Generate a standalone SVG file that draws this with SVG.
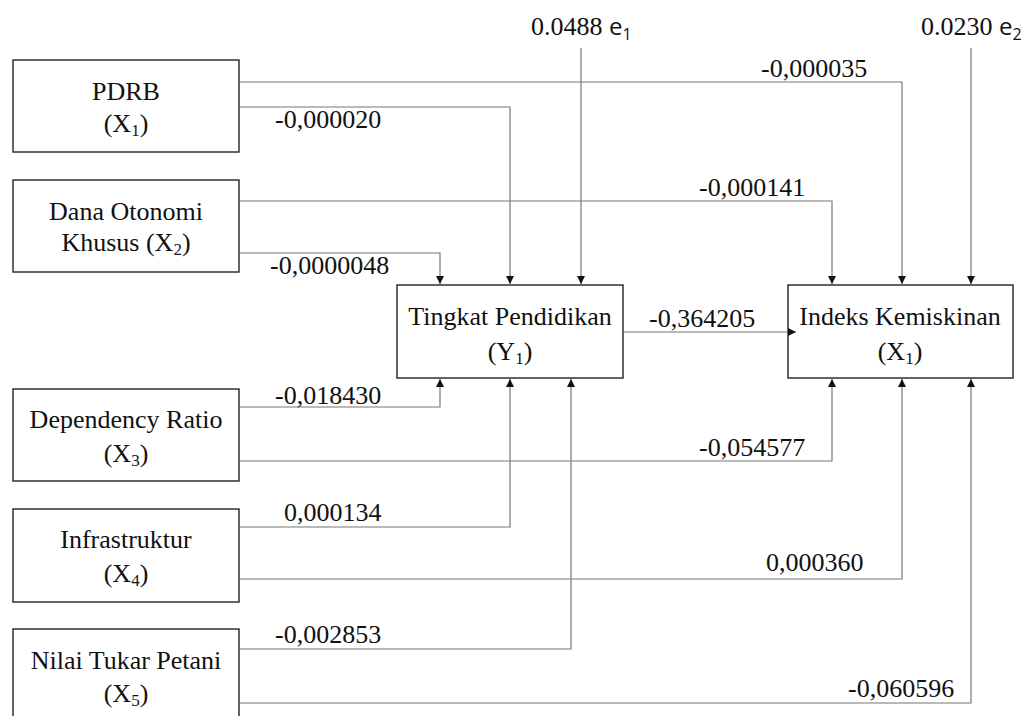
<svg xmlns="http://www.w3.org/2000/svg" width="1024" height="716" viewBox="0 0 1024 716">
<style>
.box{fill:#fff;stroke:#222;stroke-width:1.4}
text.t{font-family:'Liberation Serif','Times New Roman',Times,'DejaVu Serif',serif;font-size:26px;fill:#111}
.c{text-anchor:middle}
.s{font-size:17px}
.e{font-family:'Open Sans','DejaVu Sans',sans-serif;font-size:24px}
.es{font-family:'Open Sans','DejaVu Sans',sans-serif;font-size:16px}
.ln{fill:none;stroke:#777;stroke-width:1.2}
</style>
<defs>
<marker id="ah" viewBox="0 0 8 8" refX="8" refY="4" markerWidth="8" markerHeight="8" markerUnits="userSpaceOnUse" orient="auto">
<path d="M0,0 L8,4 L0,8 Z" fill="#111"/>
</marker>
</defs>
<rect width="1024" height="716" fill="#fff"/>
<g id="pdrb">
<rect class="box" x="13" y="60" width="226" height="92"/>
<text class="t c" x="126" y="100">PDRB</text>
<text class="t c" x="126" y="132">(X<tspan class="s" dy="4">1</tspan><tspan dy="-4">)</tspan></text>
</g>
<g id="dana">
<rect class="box" x="13" y="180" width="226" height="92"/>
<text class="t c" x="126" y="220">Dana Otonomi</text>
<text class="t c" x="126" y="251">Khusus (X<tspan class="s" dy="4">2</tspan><tspan dy="-4">)</tspan></text>
</g>
<g id="dependency">
<rect class="box" x="13" y="389" width="226" height="92"/>
<text class="t c" x="126" y="428">Dependency Ratio</text>
<text class="t c" x="126" y="462">(X<tspan class="s" dy="4">3</tspan><tspan dy="-4">)</tspan></text>
</g>
<g id="infrastruktur">
<rect class="box" x="13" y="509" width="226" height="93"/>
<text class="t c" x="126" y="548">Infrastruktur</text>
<text class="t c" x="126" y="582">(X<tspan class="s" dy="4">4</tspan><tspan dy="-4">)</tspan></text>
</g>
<g id="ntp">
<rect class="box" x="13" y="629" width="226" height="100"/>
<text class="t c" x="126" y="669">Nilai Tukar Petani</text>
<text class="t c" x="126" y="702">(X<tspan class="s" dy="4">5</tspan><tspan dy="-4">)</tspan></text>
</g>
<g id="tingkat">
<rect class="box" x="397" y="285" width="226" height="93"/>
<text class="t c" x="510" y="325">Tingkat Pendidikan</text>
<text class="t c" x="510" y="360">(Y<tspan class="s" dy="4">1</tspan><tspan dy="-4">)</tspan></text>
</g>
<g id="indeks">
<rect class="box" x="788" y="285" width="225" height="93"/>
<text class="t c" x="900" y="325">Indeks Kemiskinan</text>
<text class="t c" x="900" y="360">(X<tspan class="s" dy="4">1</tspan><tspan dy="-4">)</tspan></text>
</g>
<g id="e1">
<text class="t" x="531" y="35">0.0488 <tspan class="e">e</tspan><tspan class="es" dy="5">1</tspan></text>
</g>
<g id="e2">
<text class="t" x="921" y="35">0.0230 <tspan class="e">e</tspan><tspan class="es" dy="5">2</tspan></text>
</g>
<g id="connectors">
<path class="ln" d="M239,82 H902 V284" marker-end="url(#ah)"/>
<path class="ln" d="M239,107 H510 V284" marker-end="url(#ah)"/>
<path class="ln" d="M239,201 H832 V284" marker-end="url(#ah)"/>
<path class="ln" d="M239,253 H440 V284" marker-end="url(#ah)"/>
<path class="ln" d="M581,48 V284" marker-end="url(#ah)"/>
<path class="ln" d="M971,48 V284" marker-end="url(#ah)"/>
<path class="ln" d="M623,332 H796" marker-end="url(#ah)"/>
<path class="ln" d="M239,407 H440 V379" marker-end="url(#ah)"/>
<path class="ln" d="M239,461 H832 V379" marker-end="url(#ah)"/>
<path class="ln" d="M239,527 H510 V379" marker-end="url(#ah)"/>
<path class="ln" d="M239,579 H902 V379" marker-end="url(#ah)"/>
<path class="ln" d="M239,649 H571 V379" marker-end="url(#ah)"/>
<path class="ln" d="M239,703 H971 V379" marker-end="url(#ah)"/>
<text class="t" x="761" y="77">-0,000035</text>
<text class="t" x="275" y="128">-0,000020</text>
<text class="t" x="699" y="196">-0,000141</text>
<text class="t" x="270" y="274">-0,0000048</text>
<text class="t" x="649" y="327">-0,364205</text>
<text class="t" x="275" y="404">-0,018430</text>
<text class="t" x="699" y="456">-0,054577</text>
<text class="t" x="284" y="521">0,000134</text>
<text class="t" x="766" y="571">0,000360</text>
<text class="t" x="275" y="643">-0,002853</text>
<text class="t" x="848" y="697">-0,060596</text>
</g>
</svg>
